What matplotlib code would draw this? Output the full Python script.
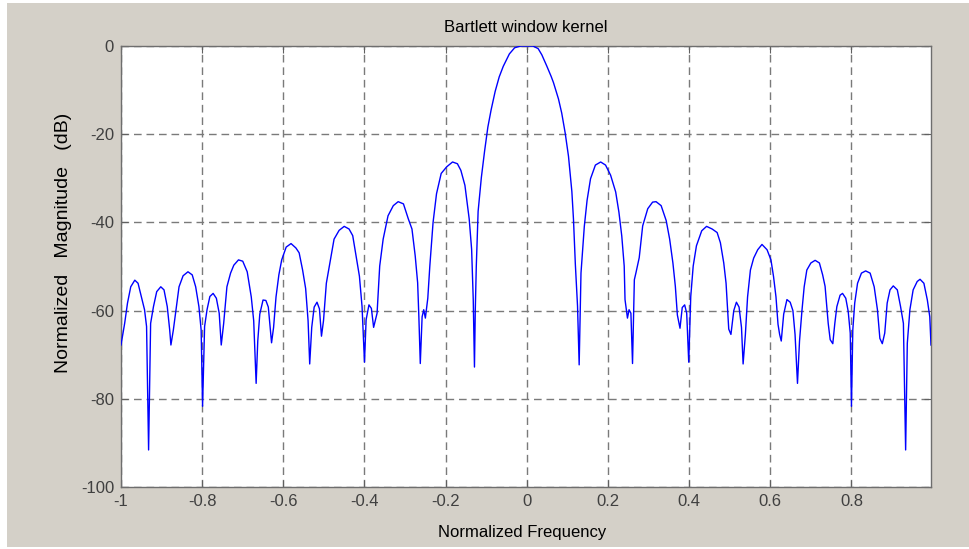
import matplotlib
matplotlib.use("Agg")
import matplotlib.pyplot as plt
from matplotlib.patches import Rectangle
import numpy as np

# Normalized frequency (x) and magnitude in dB (y)
freq = [
    -1.000, -0.991, -0.984, -0.976, -0.966, -0.958, -0.950, -0.942, -0.937, -0.932,
    -0.927, -0.920, -0.912, -0.902, -0.894, -0.886, -0.880, -0.877, -0.871, -0.8655,
    -0.857, -0.847, -0.835, -0.8245, -0.816, -0.808, -0.8025, -0.799, -0.794, -0.788,
    -0.781, -0.773, -0.765, -0.758, -0.753, -0.747, -0.739, -0.730, -0.722, -0.7105,
    -0.700, -0.689, -0.679, -0.673, -0.670, -0.667, -0.663, -0.658, -0.650, -0.643,
    -0.637, -0.632, -0.629, -0.624, -0.618, -0.611, -0.604, -0.593, -0.581, -0.569,
    -0.561, -0.5525, -0.545, -0.539, -0.535, -0.530, -0.524, -0.517, -0.511, -0.506,
    -0.501, -0.494, -0.4845, -0.475, -0.4625, -0.450, -0.438, -0.429, -0.421, -0.4125,
    -0.406, -0.400, -0.396, -0.389, -0.383, -0.3775, -0.369, -0.3625, -0.354, -0.342,
    -0.329, -0.317, -0.304, -0.292, -0.283, -0.275, -0.269, -0.266, -0.2625, -0.258,
    -0.254, -0.250, -0.244, -0.239, -0.231, -0.2225, -0.211, -0.1975, -0.183, -0.171,
    -0.1625, -0.1525, -0.142, -0.136, -0.132, -0.129, -0.127, -0.1245, -0.120, -0.112,
    -0.104, -0.096, -0.088, -0.078, -0.068, -0.058, -0.043, -0.030, -0.015, 0.000,
    0.015, 0.028, 0.037, 0.049, 0.060, 0.0657, 0.078, 0.086, 0.0945, 0.1027,
    0.111, 0.115, 0.1196, 0.125, 0.129, 0.1335, 0.1417, 0.1485, 0.157, 0.169,
    0.182, 0.194, 0.2065, 0.219, 0.227, 0.234, 0.240, 0.242, 0.248, 0.252,
    0.2565, 0.2605, 0.265, 0.269, 0.277, 0.2855, 0.298, 0.310, 0.3185, 0.331,
    0.3435, 0.352, 0.360, 0.366, 0.371, 0.3775, 0.383, 0.389, 0.394, 0.399,
    0.404, 0.410, 0.418, 0.431, 0.443, 0.4567, 0.469, 0.477, 0.4853, 0.491,
    0.495, 0.4976, 0.503, 0.510, 0.5165, 0.523, 0.529, 0.533, 0.5386, 0.544,
    0.551, 0.559, 0.569, 0.5795, 0.592, 0.6016, 0.608, 0.614, 0.619, 0.623,
    0.627, 0.633, 0.641, 0.649, 0.6557, 0.661, 0.667, 0.672, 0.678, 0.6835,
    0.690, 0.700, 0.7105, 0.721, 0.729, 0.735, 0.7427, 0.7476, 0.754, 0.759,
    0.764, 0.772, 0.778, 0.786, 0.792, 0.797, 0.800, 0.8033, 0.808, 0.815,
    0.8246, 0.835, 0.846, 0.856, 0.864, 0.870, 0.876, 0.882, 0.888, 0.895,
    0.903, 0.913, 0.921, 0.928, 0.9335, 0.9376, 0.944, 0.952, 0.962, 0.969,
    0.9785, 0.987, 0.993, 0.996,
]
mag_db = [
    -67.8, -62.9, -58.3, -54.6, -53.1, -53.8, -56.8, -59.8, -63.6, -91.6,
    -62.9, -59.1, -55.7, -54.6, -55.3, -59.1, -64.4, -67.8, -64.4, -60.6,
    -54.6, -52.1, -51.2, -51.9, -54.6, -59.1, -64.4, -81.7, -63.6, -59.8,
    -56.8, -56.1, -57.2, -60.6, -67.8, -62.9, -54.6, -51.5, -49.7, -48.5,
    -48.8, -51.2, -56.9, -62.3, -69.2, -76.5, -66.9, -60.8, -57.6, -57.7,
    -59.2, -64.2, -67.3, -63.8, -56.9, -51.9, -48.5, -45.6, -44.8, -45.8,
    -46.9, -50.8, -55.0, -62.3, -72.1, -63.8, -59.2, -58.1, -59.6, -65.8,
    -62.3, -53.8, -48.8, -43.8, -41.8, -40.9, -41.5, -43.0, -47.5, -52.2,
    -59.1, -71.7, -62.1, -58.7, -59.5, -63.8, -60.6, -49.9, -43.8, -38.5,
    -36.2, -35.3, -35.8, -39.2, -41.5, -47.6, -53.7, -61.4, -72.0, -61.4,
    -59.8, -61.7, -57.2, -49.9, -40.0, -33.5, -28.9, -27.4, -26.3, -26.7,
    -28.2, -31.6, -39.2, -46.1, -57.5, -72.8, -60.0, -50.0, -37.5, -29.8,
    -23.8, -18.4, -14.5, -10.3, -7.0, -4.6, -1.8, -0.4, 0.0, 0.0,
    0.0, -0.6, -2.0, -4.5, -6.9, -8.3, -12.0, -15.2, -19.7, -25.0,
    -33.0, -39.3, -49.5, -59.0, -72.3, -51.5, -40.9, -35.0, -30.1, -27.0,
    -26.3, -27.0, -29.3, -33.1, -37.7, -43.1, -49.9, -57.5, -61.7, -59.8,
    -60.6, -72.0, -53.0, -51.4, -48.0, -40.8, -36.9, -35.4, -35.3, -36.2,
    -39.6, -43.8, -49.2, -54.5, -61.0, -64.0, -59.3, -58.7, -60.6, -71.7,
    -56.8, -49.9, -45.3, -41.9, -40.9, -41.5, -42.3, -44.6, -49.2, -53.8,
    -60.0, -64.2, -65.4, -60.0, -58.1, -59.2, -63.8, -72.1, -65.4, -56.9,
    -50.8, -48.1, -46.2, -45.0, -46.2, -48.5, -52.3, -56.9, -63.1, -65.4,
    -66.9, -60.8, -57.5, -58.1, -60.0, -65.4, -76.5, -66.9, -60.0, -54.6,
    -50.8, -49.2, -48.6, -49.2, -51.9, -54.5, -62.9, -66.6, -67.5, -62.9,
    -59.1, -56.5, -56.1, -57.2, -60.2, -65.1, -81.7, -64.4, -58.3, -53.8,
    -51.5, -51.0, -51.5, -54.6, -59.8, -66.3, -67.5, -65.1, -58.3, -55.3,
    -54.4, -55.3, -59.1, -62.9, -91.6, -67.4, -59.8, -55.3, -53.4, -52.9,
    -53.8, -57.6, -61.4, -67.8,
]
x_ticks = [-1, -0.8, -0.6, -0.4, -0.2, 0, 0.2, 0.4, 0.6, 0.8]
x_tick_labels = ["-1", "-0.8", "-0.6", "-0.4", "-0.2", "0", "0.2", "0.4", "0.6", "0.8"]
y_ticks = [-100, -80, -60, -40, -20, 0]
y_tick_labels = ["-100", "-80", "-60", "-40", "-20", "0"]

W, H = 969, 549
fig = plt.figure(figsize=(W / 100, H / 100), dpi=100, facecolor="white")
fig.patches.append(Rectangle((7 / W, 2 / H), 1 - 7 / W, 1 - 5 / H,
                             transform=fig.transFigure, facecolor="#d4d0c8",
                             edgecolor="none", zorder=-10))

ax = fig.add_axes([121 / W, (H - 487) / H, 810 / W, 441 / H])
ax.set_facecolor("white")
ax.plot(freq, mag_db, color="#0000ff", linewidth=1.0, zorder=3)
ax.set_xlim(-1, 0.996)
ax.set_ylim(-100, 0)

ax.set_xticks(x_ticks)
ax.set_xticklabels(x_tick_labels)
ax.set_yticks(y_ticks)
ax.set_yticklabels(y_tick_labels)

for lab in ax.get_xticklabels() + ax.get_yticklabels():
    lab.set_fontfamily("Liberation Sans")
    lab.set_fontsize(12)
    lab.set_color("#404040")

ax.tick_params(direction="in", length=5, width=0.8, color="#606060",
               top=True, right=True, pad=5)
for s in ax.spines.values():
    s.set_color("#6e6e6e")
    s.set_linewidth(1.0)

ax.grid(True, color="#7a7a7a", linewidth=1.0, linestyle=(0, (5.5, 3.5)))
ax.set_axisbelow(True)

ax.set_title("Bartlett window kernel", family="Liberation Sans",
             fontsize=12, color="black", pad=10)
ax.set_xlabel("Normalized Frequency", family="Liberation Sans",
              fontsize=12, color="black")
ax.xaxis.set_label_coords((522 - 121) / 810, (487 - 533) / 441)
ax.xaxis.label.set_va("center")
ax.set_ylabel("Normalized   Magnitude   (dB)", family="Liberation Sans",
              fontsize=14, color="black")
ax.yaxis.set_label_coords((63 - 121) / 810, (487 - 243) / 441)
ax.yaxis.label.set_va("center")

fig.savefig("out.png", dpi=100, facecolor=fig.get_facecolor())
